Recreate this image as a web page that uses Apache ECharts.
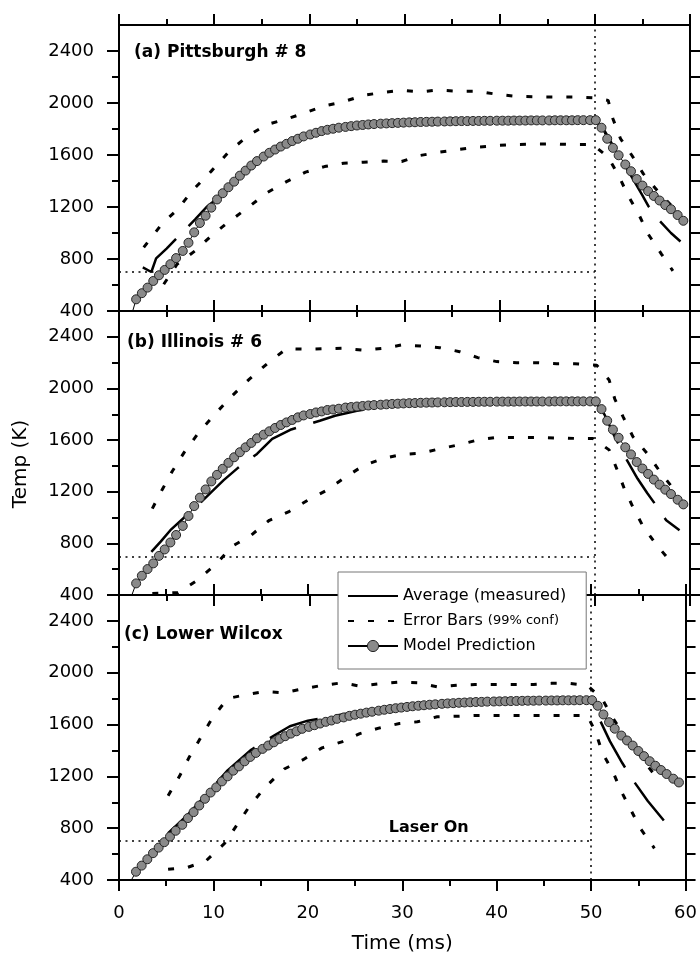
<!DOCTYPE html>
<html><head><meta charset="utf-8">
<script src="https://cdn.jsdelivr.net/npm/echarts@6/dist/echarts.min.js"></script>
<style>html,body{margin:0;padding:0;background:#fff}#c{width:700px;height:956px}</style>
</head><body><div id="c"></div>
<script>
// ---------- data ----------
const panelTitles = ['(a) Pittsburgh # 8', '(b) Illinois # 6', '(c) Lower Wilcox'];
const xTickLabels = [0, 10, 20, 30, 40, 50, 60];
const yMajorTicks = [400, 800, 1200, 1600, 2000, 2400];
const yMinorTicks = [600, 1000, 1400, 1800, 2200];
const yRightTicks = [400, 600, 800, 1000, 1200, 1400, 1600, 1800, 2000, 2200, 2400];
const laserOnTemp = 700;
const laserOffTime = 50;

const modelTime = [1.2, 1.8, 2.4, 3.0, 3.6, 4.2, 4.8, 5.4, 6.0, 6.7, 7.3, 7.9, 8.5, 9.1, 9.7, 10.3, 10.9, 11.5, 12.1, 12.7,
  13.3, 13.9, 14.5, 15.2, 15.8, 16.4, 17.0, 17.6, 18.2, 18.8, 19.4, 20.1, 20.7, 21.3, 21.9, 22.5, 23.1, 23.8,
  24.4, 25.0, 25.6, 26.2, 26.8, 27.5, 28.1, 28.7, 29.3, 29.9, 30.5, 31.1, 31.7, 32.3, 32.9, 33.5, 34.2, 34.8,
  35.4, 36.0, 36.6, 37.2, 37.8, 38.4, 39.0, 39.7, 40.3, 40.9, 41.5, 42.1, 42.7, 43.3, 43.9, 44.5, 45.2, 45.8,
  46.4, 47.0, 47.6, 48.2, 48.8, 49.5, 50.1,
  50.7, 51.3, 51.9, 52.5, 53.2, 53.8, 54.4, 55.0, 55.6, 56.2, 56.8, 57.4, 58.0, 58.7, 59.3];

const modelA = [340, 490, 537, 580, 631, 675, 716, 760, 807, 862, 925, 1005, 1077, 1133, 1195, 1258, 1306, 1352, 1395, 1441,
  1480, 1519, 1553, 1588, 1617, 1642, 1665, 1686, 1707, 1725, 1743, 1758, 1771, 1784, 1794, 1802, 1810, 1816,
  1822, 1827, 1831, 1835, 1838, 1841, 1843, 1845, 1847, 1849, 1851, 1852, 1854, 1855, 1856, 1857, 1858, 1859,
  1860, 1861, 1861, 1862, 1862, 1863, 1863, 1864, 1864, 1864, 1865, 1865, 1865, 1866, 1866, 1866, 1866, 1867,
  1867, 1867, 1867, 1868, 1868, 1868, 1868,
  1810, 1725, 1655, 1598, 1527, 1475, 1415, 1365, 1322, 1285, 1250, 1215, 1183, 1138, 1094];

const modelB = [369, 490, 549, 601, 645, 703, 753, 807, 865, 935, 1012, 1089, 1154, 1218, 1280, 1331, 1378, 1424, 1467, 1506,
  1544, 1578, 1614, 1642, 1668, 1694, 1717, 1737, 1756, 1776, 1791, 1802, 1814, 1822, 1833, 1837, 1843, 1852,
  1856, 1860, 1864, 1868, 1871, 1874, 1877, 1880, 1882, 1884, 1886, 1887, 1889, 1890, 1891, 1892, 1893, 1894,
  1895, 1895, 1896, 1896, 1897, 1897, 1897, 1898, 1898, 1898, 1898, 1899, 1899, 1899, 1899, 1899, 1899, 1900,
  1900, 1900, 1900, 1900, 1900, 1900, 1900,
  1840, 1750, 1681, 1618, 1544, 1489, 1430, 1380, 1338, 1294, 1255, 1216, 1182, 1138, 1102];

const modelC = [385, 464, 511, 560, 607, 650, 692, 735, 780, 826, 878, 924, 975, 1027, 1075, 1115, 1161, 1200, 1244, 1277,
  1316, 1350, 1381, 1412, 1438, 1463, 1489, 1510, 1530, 1548, 1567, 1582, 1595, 1608, 1621, 1631, 1644, 1655,
  1667, 1676, 1684, 1692, 1699, 1707, 1714, 1720, 1726, 1731, 1736, 1741, 1745, 1749, 1753, 1756, 1760, 1763,
  1765, 1768, 1770, 1772, 1774, 1775, 1777, 1778, 1779, 1780, 1781, 1782, 1783, 1784, 1784, 1785, 1785, 1786,
  1786, 1787, 1787, 1787, 1788, 1788, 1788,
  1745, 1678, 1618, 1568, 1515, 1477, 1438, 1396, 1356, 1317, 1282, 1249, 1218, 1182, 1153];

const measA = [[2.5, 735], [3.4, 700], [3.9, 805], [5.0, 880], [6.6, 1000], [8.0, 1105], [9.2, 1200], [10.5, 1275],
  [12.0, 1380], [13.5, 1475], [15.5, 1592], [17.0, 1650], [19.0, 1725], [21.0, 1778], [23.0, 1806], [25.0, 1826],
  [28.0, 1843], [32.0, 1855], [36.0, 1860], [40.0, 1863], [45.0, 1865], [50.0, 1866], [51.0, 1790], [52.0, 1660],
  [53.0, 1540], [54.0, 1416], [55.0, 1290], [55.6, 1210], [56.8, 1094], [58.0, 1000], [59.0, 935]];
const measB = [[3.4, 734], [4.4, 815], [5.4, 902], [7.0, 1010], [8.5, 1110], [9.7, 1197], [11.0, 1290], [12.5, 1385],
  [14.5, 1493], [16.1, 1609], [18.0, 1680], [21.1, 1750], [22.7, 1789], [25.0, 1828], [28.0, 1858], [32.0, 1880],
  [36.0, 1890], [40.0, 1895], [45.0, 1898], [50.0, 1900], [51.0, 1800], [52.0, 1640], [53.2, 1467], [54.5, 1300],
  [55.5, 1190], [56.3, 1108], [57.5, 979], [58.9, 902]];
const measC = [[5.2, 761], [7.1, 890], [9.0, 1040], [11.5, 1246], [14.0, 1405], [16.6, 1523], [18.1, 1587], [20.0, 1630],
  [23.6, 1677], [27.0, 1716], [30.0, 1740], [35.0, 1764], [40.0, 1778], [45.0, 1785], [50.0, 1788], [50.9, 1639],
  [52.0, 1470], [53.3, 1303], [54.4, 1174], [56.0, 1010], [57.7, 859]];

const upA = [[2.6, 889], [4.5, 1069], [6.2, 1185], [7.7, 1326], [9.7, 1476], [11.5, 1622], [13.5, 1745], [15.5, 1833],
  [17.5, 1875], [19.5, 1923], [21.5, 1977], [23.5, 2008], [25.7, 2059], [27.6, 2080], [29.7, 2097], [31.7, 2085],
  [33.5, 2100], [35.6, 2090], [37.7, 2090], [39.7, 2067], [41.8, 2051], [43.9, 2047], [45.8, 2047], [47.7, 2047],
  [49.8, 2041], [51.4, 2020], [51.9, 1879], [52.7, 1725], [53.9, 1596], [55.1, 1455], [56.7, 1314], [58.2, 1198]];
const loA = [[4.7, 606], [6.1, 760], [8.0, 863], [9.7, 979], [11.6, 1090], [13.6, 1198], [15.5, 1308], [17.6, 1395],
  [19.6, 1468], [21.6, 1511], [23.6, 1537], [25.7, 1545], [27.8, 1553], [29.7, 1550], [31.6, 1596], [33.7, 1622],
  [35.6, 1642], [37.7, 1661], [39.7, 1673], [41.8, 1681], [43.9, 1684], [46.0, 1684], [48.0, 1680], [49.8, 1680],
  [51.4, 1583], [52.5, 1442], [53.5, 1287], [54.6, 1146], [55.6, 992], [57.0, 838], [58.2, 709]];

const upB = [[3.5, 1069], [4.55, 1218], [5.6, 1359], [6.9, 1511], [8.4, 1660], [10.0, 1794], [11.7, 1930], [13.7, 2072],
  [15.7, 2200], [17.6, 2308], [19.7, 2304], [21.6, 2308], [23.6, 2311], [25.7, 2296], [27.8, 2311], [29.7, 2337],
  [31.7, 2329], [33.7, 2316], [35.8, 2285], [37.7, 2239], [39.7, 2208], [41.8, 2200], [43.9, 2200], [46.0, 2192],
  [47.9, 2192], [50.2, 2180], [51.5, 2066], [52.1, 1918], [53.0, 1776], [54.0, 1627], [55.6, 1488], [57.0, 1339],
  [58.4, 1210]];
const loB = [[3.5, 412], [6.2, 418], [8.1, 508], [10.2, 639], [11.9, 778], [13.8, 858], [15.8, 979], [17.8, 1043],
  [19.7, 1128], [21.8, 1210], [23.8, 1313], [25.7, 1403], [27.8, 1459], [29.7, 1488], [31.7, 1498], [33.7, 1532],
  [35.8, 1565], [37.7, 1601], [39.7, 1621], [41.8, 1621], [43.9, 1621], [46.0, 1616], [48.0, 1613], [49.8, 1613],
  [51.5, 1524], [52.3, 1378], [53.1, 1223], [54.0, 1081], [55.1, 927], [56.5, 786], [58.1, 649]];

const upC = [[5.2, 1050], [6.4, 1200], [7.45, 1350], [8.7, 1505], [9.9, 1652], [11.5, 1801], [13.5, 1831], [15.5, 1855],
  [17.5, 1845], [19.5, 1876], [21.5, 1902], [23.6, 1922], [25.5, 1897], [27.6, 1915], [29.7, 1928], [31.6, 1922],
  [33.7, 1891], [35.8, 1904], [37.7, 1909], [39.7, 1909], [41.8, 1909], [43.9, 1909], [45.8, 1918], [47.7, 1918],
  [49.6, 1902], [51.2, 1794], [52.3, 1650], [53.1, 1560], [54.2, 1440], [55.2, 1360], [56.2, 1260], [56.9, 1195]];
const loC = [[5.2, 483], [7.3, 498], [9.2, 547], [11.2, 684], [12.5, 826], [13.8, 967], [15.5, 1118], [17.5, 1257],
  [19.5, 1329], [21.5, 1420], [23.6, 1466], [25.5, 1530], [27.6, 1574], [29.7, 1608], [31.6, 1621], [33.7, 1660],
  [35.8, 1664], [37.7, 1670], [39.7, 1670], [41.8, 1670], [43.9, 1670], [45.8, 1670], [47.7, 1670], [49.6, 1670],
  [50.5, 1536], [51.2, 1381], [52.3, 1238], [53.1, 1097], [54.2, 942], [55.2, 800], [56.7, 645]];

// ---------- chart ----------
const FONT = 'DejaVu Sans';
const black = '#000';
const panels = [
  {model: modelA, meas: measA, up: upA, lo: loA},
  {model: modelB, meas: measB, up: upB, lo: loB},
  {model: modelC, meas: measC, up: upC, lo: loC}
];
const gridTops = [25, 311, 595];
const gridHeights = [286, 284, 285];

const grids = [], xAxes = [], yAxes = [], series = [], titles = [];
const titleLeft = [134, 127, 124];
const titleTop = [44, 334, 626];

panels.forEach((p, i) => {
  grids.push({left: 119, right: 10, top: gridTops[i], height: gridHeights[i], containLabel: false});
  const xc = {
    type: 'value', gridIndex: i, min: 0, max: 60, interval: 10,
    splitLine: {show: false},
    axisLine: {show: true, onZero: false, lineStyle: {color: black, width: 2}},
    axisTick: {show: true, inside: false, length: 11, lineStyle: {color: black, width: 2}},
    minorTick: {show: true, splitNumber: 2, length: 6, lineStyle: {color: black, width: 2}},
    minorSplitLine: {show: false}
  };
  xAxes.push(Object.assign({}, xc, {
    position: 'bottom',
    axisLabel: {show: i === 2, margin: 24, fontSize: 18, color: black, fontFamily: FONT,
      customValues: xTickLabels},
    name: i === 2 ? 'Time (ms)' : '', nameLocation: 'middle', nameGap: 54,
    nameTextStyle: {fontSize: 20, color: black, fontFamily: FONT}
  }));
  xAxes.push(Object.assign({}, xc, {position: 'top', axisLabel: {show: false}}));

  const yc = {type: 'value', gridIndex: i, min: 400, max: 2600, splitLine: {show: false}};
  yAxes.push(Object.assign({}, yc, {
    position: 'left', interval: 400,
    axisLine: {show: true, onZero: false, lineStyle: {color: black, width: 2}},
    axisTick: {show: true, inside: false, length: 12, customValues: yMajorTicks, lineStyle: {color: black, width: 2}},
    axisLabel: {show: true, customValues: yMajorTicks, margin: 25, fontSize: 18, color: black, fontFamily: FONT,
      formatter: v => (v > 2400 ? '' : String(v))}
  }));
  yAxes.push(Object.assign({}, yc, {
    position: 'left', interval: 200,
    axisLine: {show: false},
    axisTick: {show: true, inside: false, length: 7, customValues: yMinorTicks, lineStyle: {color: black, width: 2}},
    axisLabel: {show: false}
  }));
  yAxes.push(Object.assign({}, yc, {
    position: 'right', interval: 200,
    axisLine: {show: true, onZero: false, lineStyle: {color: black, width: 2}},
    axisTick: {show: true, inside: false, length: 10, customValues: yRightTicks, lineStyle: {color: black, width: 2}},
    axisLabel: {show: false}
  }));

  const ax = {xAxisIndex: 2 * i, yAxisIndex: 3 * i};
  const errStyle = {color: black, width: 3, type: [6, 14], cap: 'butt'};
  const refLines = {
    silent: true, symbol: 'none', animation: false,
    label: {show: false},
    lineStyle: {color: black, width: 1.5, type: [2, 4.5]},
    data: [
      {xAxis: laserOffTime},
      [{coord: [0, laserOnTemp]}, {coord: [laserOffTime, laserOnTemp]}]
    ]
  };
  series.push(Object.assign({
    name: 'Error Bars', type: 'line', data: p.up, symbol: 'none', silent: true, z: 2,
    itemStyle: {color: black}, lineStyle: errStyle, markLine: refLines
  }, ax));
  series.push(Object.assign({
    name: 'Error Bars', type: 'line', data: p.lo, symbol: 'none', silent: true, z: 2,
    itemStyle: {color: black}, lineStyle: errStyle
  }, ax));
  const measSeries = Object.assign({
    name: 'Average (measured)', type: 'line', data: p.meas, symbol: 'none', silent: true, z: 3,
    itemStyle: {color: black},
    lineStyle: {color: black, width: 2.5, type: [52, 18], cap: 'butt'}
  }, ax);
  if (i === 2) {
    measSeries.markPoint = {
      silent: true, symbol: 'circle', symbolSize: 0, animation: false,
      data: [{coord: [32.8, laserOnTemp]}],
      label: {show: true, formatter: 'Laser On', position: 'inside', offset: [0, -13],
        fontSize: 16, fontWeight: 'bold', color: black, fontFamily: FONT}
    };
  }
  series.push(measSeries);
  series.push(Object.assign({
    name: 'Model Prediction', type: 'line',
    data: modelTime.map((t, k) => [t, p.model[k]]),
    symbol: 'circle', symbolSize: 9, showAllSymbol: true, silent: true, z: 5,
    itemStyle: {color: '#8a8a8a', borderColor: '#262626', borderWidth: 1},
    lineStyle: {color: black, width: 1}
  }, ax));

  titles.push({
    text: panelTitles[i], left: titleLeft[i], top: titleTop[i], padding: 0,
    textStyle: {fontSize: 17, fontWeight: 'bold', color: black, fontFamily: FONT}
  });
});

const option = {
  animation: false,
  backgroundColor: '#fff',
  textStyle: {fontFamily: FONT},
  title: titles,
  grid: grids,
  xAxis: xAxes,
  yAxis: yAxes,
  legend: {
    orient: 'vertical', left: 338, top: 572,
    padding: [16, 20, 15, 9], itemWidth: 50, itemHeight: 14, itemGap: 9,
    backgroundColor: '#fff', borderColor: '#777', borderWidth: 1, borderRadius: 0,
    selectedMode: false, z: 10,
    textStyle: {fontSize: 16, color: black, fontFamily: FONT,
      rich: {s: {fontSize: 13, color: black, fontFamily: FONT}}},
    formatter: n => (n === 'Error Bars' ? 'Error Bars {s|(99% conf)}' : n),
    data: [
      {name: 'Average (measured)', lineStyle: {type: 'solid'}, itemStyle: {opacity: 0}},
      {name: 'Error Bars', itemStyle: {opacity: 0}},
      {name: 'Model Prediction', itemStyle: {color: '#8a8a8a', borderColor: '#262626', borderWidth: 1}}
    ]
  },
  graphic: [{
    type: 'text', x: 21, y: 464, rotation: Math.PI / 2,
    style: {text: 'Temp (K)', fontSize: 20, fontFamily: FONT, fill: black, align: 'center', verticalAlign: 'middle'}
  }],
  series: series
};

const chart = echarts.init(document.getElementById('c'), null, {renderer: 'canvas'});
chart.setOption(option);
</script>
</body></html>
